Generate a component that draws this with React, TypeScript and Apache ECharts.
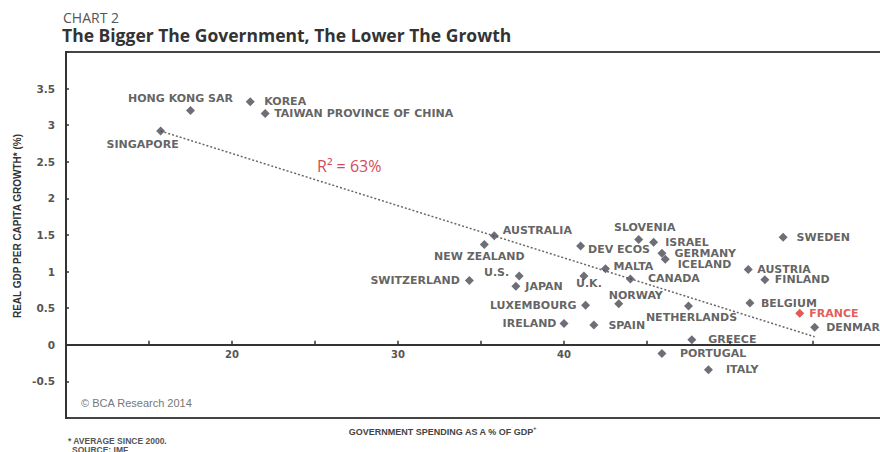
import React, { useEffect, useRef } from 'react';
import * as echarts from 'echarts';

// ---- Data ----
const countries = [
  'HONG KONG SAR', 'KOREA', 'TAIWAN PROVINCE OF CHINA', 'SINGAPORE', 'AUSTRALIA',
  'NEW ZEALAND', 'SWITZERLAND', 'U.S.', 'JAPAN', 'U.K.', 'DEV ECOS', 'LUXEMBOURG',
  'IRELAND', 'SPAIN', 'MALTA', 'CANADA', 'NORWAY', 'NETHERLANDS', 'SLOVENIA',
  'ISRAEL', 'GERMANY', 'ICELAND', 'SWEDEN', 'AUSTRIA', 'FINLAND', 'BELGIUM',
  'FRANCE', 'DENMARK', 'GREECE', 'PORTUGAL', 'ITALY',
];
const spending = [
  17.5, 21.1, 22.0, 15.7, 35.8,
  35.2, 34.3, 37.3, 37.1, 41.2, 41.0, 41.3,
  40.0, 41.8, 42.5, 44.0, 43.3, 47.5, 44.5,
  45.4, 45.9, 46.1, 53.2, 51.1, 52.1, 51.2,
  54.2, 55.1, 47.7, 45.9, 48.7,
];
const growth = [
  3.20, 3.32, 3.16, 2.92, 1.49,
  1.37, 0.88, 0.94, 0.80, 0.94, 1.35, 0.54,
  0.29, 0.27, 1.04, 0.90, 0.56, 0.53, 1.44,
  1.40, 1.25, 1.17, 1.47, 1.03, 0.89, 0.57,
  0.43, 0.24, 0.07, -0.12, -0.34,
];
const highlighted = 'FRANCE';

// regression line end points
const trendSpending = [15.7, 55.1];
const trendGrowth = [2.92, 0.11];

const xTickLabels = [20, 30, 40];
const hiddenYTicks = [-1, 4];

// ---- Layout of labels (position, dx, dy) ----
const labelPlacement: Record<string, [string, number, number]> = {
  'HONG KONG SAR': ['top', -10, 3],
  'KOREA': ['right', 4.5, 0],
  'TAIWAN PROVINCE OF CHINA': ['right', -0.5, 0],
  'SINGAPORE': ['bottom', -18, -2],
  'AUSTRALIA': ['right', -1, -5],
  'NEW ZEALAND': ['bottom', -5, -3],
  'SWITZERLAND': ['left', 0, 0],
  'U.S.': ['left', -0.5, -3],
  'JAPAN': ['right', 0, 0],
  'U.K.': ['bottom', 5, -7],
  'DEV ECOS': ['right', -2, 4],
  'LUXEMBOURG': ['left', 0.5, 0],
  'IRELAND': ['left', 2, 0],
  'SPAIN': ['right', 5, 0],
  'MALTA': ['right', -1.5, -2],
  'CANADA': ['right', 8, 0],
  'NORWAY': ['top', 17, 7],
  'NETHERLANDS': ['bottom', 3, -4],
  'SLOVENIA': ['top', 6, 3],
  'ISRAEL': ['right', 2, 0],
  'GERMANY': ['right', 3, 0],
  'ICELAND': ['right', 3, 5],
  'SWEDEN': ['right', 4, 0],
  'AUSTRIA': ['right', -0.5, 0],
  'FINLAND': ['right', 0.5, 0],
  'BELGIUM': ['right', 1.5, 0],
  'FRANCE': ['right', 0, 0],
  'DENMARK': ['right', 2, 0],
  'GREECE': ['right', 7, 0],
  'PORTUGAL': ['right', 8.5, 0],
  'ITALY': ['right', 8, 0],
};

const POINT = '#4a4a55';
const RED = '#d9312b';
const TEXT = '#3a3a3a';

const GRID_LEFT = 66;
const GRID_TOP = 52;
const GRID_W = 830;
const GRID_H = 366;

export default function App() {
  const ref = useRef<HTMLDivElement>(null);

  useEffect(() => {
    if (!ref.current) return;
    const chart = echarts.init(ref.current, undefined, { renderer: 'svg' });

    const scatterData = countries.map((name, i) => {
      const [pos, dx, dy] = labelPlacement[name] || ['right', 0, 0];
      const isHi = name === highlighted;
      return {
        name,
        value: [spending[i], growth[i]],
        itemStyle: { color: isHi ? RED : POINT },
        label: {
          show: true,
          position: pos,
          offset: [dx, dy],
          formatter: name,
          color: isHi ? RED : TEXT,
        },
      };
    });

    const yMin = -1;
    const yMax = 4;
    // shift the x axis up so it sits on the zero line
    const zeroOffset = -(GRID_H * (0 - yMin)) / (yMax - yMin);

    chart.setOption({
      animation: false,
      grid: {
        left: GRID_LEFT,
        top: GRID_TOP,
        width: GRID_W,
        height: GRID_H,
        outerBoundsMode: 'none',
        containLabel: false,
        show: true,
        borderColor: '#444',
        borderWidth: 2,
        backgroundColor: 'transparent',
      },
      xAxis: {
        type: 'value',
        min: 10,
        max: 60,
        interval: 5,
        offset: zeroOffset,
        splitLine: { show: false },
        axisLine: { show: true, onZero: false, lineStyle: { color: '#333', width: 2 } },
        axisTick: { show: true, inside: true, length: 4, lineStyle: { color: '#333', width: 1.5 } },
        axisLabel: {
          margin: 5,
          color: '#555',
          fontSize: 10,
          fontWeight: 'bold',
          fontFamily: 'DejaVu Sans',
          formatter: (v: number) => (xTickLabels.includes(v) ? String(v) : ''),
        },
      },
      yAxis: {
        type: 'value',
        min: yMin,
        max: yMax,
        interval: 0.5,
        splitLine: { show: false },
        axisLine: { show: true, lineStyle: { color: '#333', width: 2 } },
        axisTick: { show: true, inside: true, length: 3, lineStyle: { color: '#333', width: 1.5 } },
        axisLabel: {
          margin: 11,
          color: '#555',
          fontSize: 10.5,
          fontWeight: 'bold',
          fontFamily: 'DejaVu Sans',
          formatter: (v: number) => (hiddenYTicks.includes(v) ? '' : String(v)),
        },
      },
      series: [
        {
          type: 'line',
          data: trendSpending.map((x, i) => [x, trendGrowth[i]]),
          symbol: 'none',
          lineStyle: { color: '#666', width: 1.5, type: [2, 2] },
          z: 1,
          silent: true,
        },
        {
          type: 'scatter',
          symbol: 'diamond',
          symbolSize: 9,
          data: scatterData,
          z: 3,
          label: {
            distance: 5,
            fontFamily: 'DejaVu Sans',
            fontWeight: 'bold',
            fontSize: 11,
          },
        },
      ],
      graphic: [
        {
          type: 'text', x: 63, y: 17,
          style: { text: 'CHART 2', fill: '#555', font: '14px "Open Sans"', textAlign: 'left', textVerticalAlign: 'middle' },
        },
        {
          type: 'text', x: 62, y: 35,
          style: { text: 'The Bigger The Government, The Lower The Growth', fill: '#333', font: 'bold 17.5px "Open Sans"', textAlign: 'left', textVerticalAlign: 'middle' },
        },
        {
          type: 'text', x: 17, y: 226, rotation: Math.PI / 2,
          style: {
            text: 'REAL GDP PER CAPITA GROWTH* (%)', fill: '#333',
            font: 'bold 10px "Liberation Sans"', textAlign: 'center', textVerticalAlign: 'middle',
          },
        },
        {
          type: 'text', x: 441, y: 432,
          style: {
            text: 'GOVERNMENT SPENDING AS A % OF GDP', fill: '#444',
            font: 'bold 9px "Liberation Sans"', textAlign: 'center', textVerticalAlign: 'middle',
          },
        },
        {
          type: 'text', x: 533, y: 428,
          style: { text: '+', fill: '#444', font: 'bold 6px "Liberation Sans"', textAlign: 'left', textVerticalAlign: 'middle' },
        },
        {
          type: 'text', x: 81, y: 403,
          style: { text: '© BCA Research 2014', fill: '#777', font: '11px "Liberation Sans"', textAlign: 'left', textVerticalAlign: 'middle' },
        },
        {
          type: 'text', x: 68, y: 441,
          style: { text: '* AVERAGE SINCE 2000.', fill: '#555', font: 'bold 8.5px "Liberation Sans"', textAlign: 'left', textVerticalAlign: 'middle' },
        },
        {
          type: 'text', x: 72, y: 450,
          style: { text: 'SOURCE: IMF', fill: '#555', font: 'bold 8.5px "Liberation Sans"', textAlign: 'left', textVerticalAlign: 'middle' },
        },
        {
          type: 'text', x: 317, y: 166,
          style: { text: 'R² = 63%', fill: '#d44a5c', font: '16px "Open Sans"', textAlign: 'left', textVerticalAlign: 'middle' },
        },
      ],
    });

    return () => chart.dispose();
  }, []);

  return (
    <div
      ref={ref}
      style={{ position: 'absolute', left: 0, top: 0, width: 880, height: 452, background: '#fff' }}
    />
  );
}
